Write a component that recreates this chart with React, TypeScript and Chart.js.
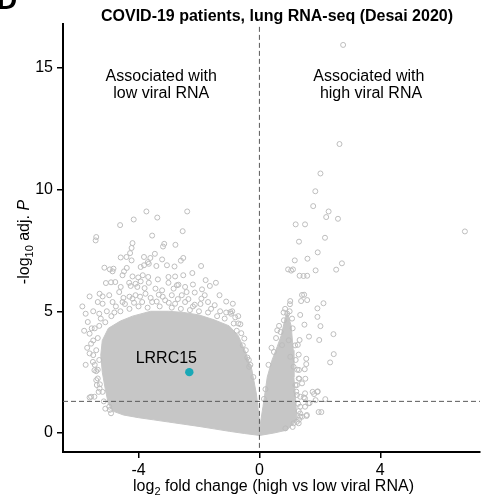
import React, { useEffect, useRef } from "react";
import { Chart, registerables } from "chart.js";

Chart.register(...registerables);

const FONT = "'Liberation Sans', Arial, Helvetica, sans-serif";
const GREY = "#bdbdbd";
const CLOUD_GREY = "#c6c6c6";
const TEAL = "#19a8b6";

const chartTitle = "COVID-19 patients, lung RNA-seq (Desai 2020)";
const panelLetter = "D";
const xTicks = [-4, 0, 4];
const yTicks = [0, 5, 10, 15];
const xRange = [-6.5, 7.3];
const yRange = [-0.78, 16.8];
const zeroFoldChange = 0;
const significanceNegLogP = 1.3;

// outline of the saturated (overplotted) cloud of genes: [log2FC, -log10 adj P]
const denseCloudOutline: [number, number][] = [
  [0.01, -0.1], [-0.5, -0.02], [-1, 0.07], [-1.5, 0.17], [-2, 0.27], [-2.5, 0.36],
  [-3, 0.45], [-3.5, 0.54], [-4, 0.63], [-4.5, 0.74], [-4.85, 0.9], [-5.0, 1.2],
  [-5.1, 1.8], [-5.2, 2.5], [-5.25, 3.2], [-5.2, 3.8], [-5.0, 4.3], [-4.6, 4.6],
  [-4.2, 4.8], [-3.6, 5.0], [-3.0, 5.0], [-2.5, 4.95], [-2.0, 4.85], [-1.5, 4.65],
  [-1.0, 4.4], [-0.7, 4.0], [-0.45, 3.3], [-0.25, 2.6], [-0.1, 1.6], [0.02, 0.3],
  [0.12, 1.1], [0.26, 2.3], [0.42, 3.0], [0.59, 3.55], [0.72, 4.0], [0.86, 4.75],
  [0.93, 4.95], [1.05, 4.4], [1.12, 3.4], [1.14, 2.3], [1.2, 1.35], [1.24, 0.55],
  [0.92, 0.12], [0.48, 0.0], [0.01, -0.1],
];

// individually visible genes, lower in high-viral samples
const lowViralGenes: [number, number][] = [
  [-3.74, 9.1], [-2.39, 9.1], [-4.16, 8.77], [-3.38, 8.85], [-4.61, 8.54], [-5.4, 8.05],
  [-5.42, 7.91], [-3.55, 8.11], [-2.54, 8.29], [-4.2, 7.8], [-3.15, 7.77], [-3.19, 7.66],
  [-2.78, 7.73], [-4.23, 7.6], [-4.28, 7.39], [-4.4, 7.23], [-4.59, 7.21], [-4.23, 7.09],
  [-3.82, 7.23], [-3.61, 7.19], [-3.69, 7.02], [-3.46, 7.36], [-3.22, 7.13], [-2.52, 7.19],
  [-2.6, 7.08], [-5.13, 6.79], [-4.95, 6.72], [-4.83, 6.75], [-4.86, 6.64], [-4.48, 6.64],
  [-4.39, 6.78], [-3.93, 6.82], [-3.82, 6.89], [-3.66, 6.95], [-3.41, 6.86], [-3.06, 6.89],
  [-2.81, 6.84], [-1.93, 6.86], [-4.53, 6.48], [-4.2, 6.43], [-4.01, 6.39], [-3.86, 6.48],
  [-3.68, 6.41], [-3.36, 6.31], [-3.01, 6.41], [-2.79, 6.43], [-2.52, 6.48], [-2.22, 6.57],
  [-1.78, 6.28], [-5.08, 6.16], [-4.91, 6.19], [-4.77, 6.2], [-4.31, 6.17], [-4.1, 6.13],
  [-3.93, 6.23], [-3.66, 6.17], [-3.01, 6.17], [-2.73, 6.07], [-2.46, 6.0], [-1.64, 6.04],
  [-1.44, 6.17], [-4.59, 6.0], [-4.26, 6.04], [-4.04, 6.0], [-3.44, 5.93], [-3.22, 5.86],
  [-2.84, 5.93], [-2.68, 6.09], [-2.41, 5.79], [-2.14, 5.77], [-1.81, 5.66], [-1.32, 5.66],
  [-5.62, 5.61], [-5.29, 5.72], [-5.19, 5.61], [-4.97, 5.66], [-4.64, 5.79], [-4.1, 5.66],
  [-3.77, 5.72], [-3.33, 5.68], [-2.9, 5.66], [-2.57, 5.66], [-1.92, 5.52], [-0.88, 5.31],
  [-5.86, 5.2], [-5.35, 5.38], [-5.19, 5.31], [-4.86, 5.38], [-4.53, 5.38], [-4.2, 5.52],
  [-3.88, 5.38], [-3.55, 5.38], [-3.12, 5.45], [-2.79, 5.31], [-2.46, 5.38], [-2.14, 5.27],
  [-1.7, 5.38], [-1.48, 5.25], [-0.96, 4.97],
  [-5.68, 4.56], [-5.62, 4.08], [-5.57, 3.67], [-5.62, 3.27], [-5.51, 2.92], [-5.46, 2.58],
  [-5.4, 2.17], [-5.29, 1.83], [-5.57, 1.49], [-5.46, 1.49], [-5.19, 1.69], [-4.97, 1.08],
  [-4.91, 0.81], [-5.4, 2.54], [-5.35, 2.24], [-5.38, 1.97], [-5.32, 1.69], [-5.62, 1.46],
  [-0.63, 4.47], [-0.5, 3.88], [-0.34, 2.72], [-0.94, 4.9],
  [-5.3, 4.9], [-5.45, 4.3], [-5.35, 3.9], [-5.4, 3.4], [-5.3, 3.0], [-4.9, 4.8],
  [-4.6, 5.0], [-4.3, 5.1], [-4.0, 5.2], [-3.7, 5.15], [-3.3, 5.2], [-2.9, 5.15],
  [-2.6, 5.1], [-2.3, 5.05], [-2.0, 5.0], [-1.7, 4.95], [-1.4, 4.8], [-1.15, 4.7],
  [-0.85, 4.5], [-0.75, 4.2], [-0.55, 3.6], [-0.4, 3.1], [-0.3, 2.8],
  [-5.5, 5.0], [-5.25, 4.7], [-5.05, 5.0], [-4.75, 5.2], [-4.45, 5.3], [-4.15, 5.35],
  [-3.95, 5.6], [-3.6, 5.55], [-3.4, 5.4], [-3.2, 5.6], [-3.0, 5.35], [-2.7, 5.5],
  [-2.35, 5.5], [-2.2, 5.2], [-1.95, 5.3], [-1.6, 5.1], [-1.3, 5.0], [-1.1, 4.95],
  [-0.8, 4.75], [-0.7, 4.5], [-0.6, 4.1], [-0.45, 3.4], [-0.35, 3.0], [-0.2, 2.3],
  [-5.55, 4.3], [-5.5, 3.8], [-5.5, 3.2], [-5.45, 2.8], [-5.35, 2.6], [-5.28, 2.0],
  [-5.15, 1.3], [-5.1, 1.0], [-4.95, 0.95], [-5.3, 4.4], [-5.1, 4.55], [-4.8, 4.95],
  [-4.5, 5.55], [-4.3, 5.6], [-3.8, 5.95], [-2.2, 6.1], [-1.9, 5.9], [-1.1, 5.4],
  [-0.9, 5.0], [-0.7, 4.8], [-5.75, 4.9], [-5.8, 4.2], [-5.7, 3.5], [-5.75, 2.8],
];

// individually visible genes, higher in high-viral samples
const highViralGenes: [number, number][] = [
  [2.77, 15.94], [2.65, 11.87], [2.02, 10.66], [1.85, 9.93],
  [1.78, 9.32], [2.29, 9.1], [2.21, 8.87], [2.6, 8.8], [1.2, 8.57], [1.51, 8.57],
  [6.8, 8.28], [2.17, 8.02], [1.31, 7.86], [1.93, 7.42], [1.59, 7.16], [1.17, 7.09],
  [2.73, 6.97], [2.54, 6.71], [1.86, 6.68], [0.95, 6.72], [1.05, 6.67], [1.11, 6.72],
  [1.33, 6.46], [1.46, 6.45], [1.58, 6.46], [1.41, 5.67], [1.48, 5.68], [1.58, 5.46],
  [1.38, 5.42], [1.02, 5.42], [1.01, 5.29], [2.12, 5.33], [1.92, 5.12], [1.92, 4.77],
  [1.35, 4.85], [1.49, 4.45], [2.02, 4.39], [2.45, 4.06], [1.64, 3.96], [1.98, 3.82],
  [1.33, 3.82], [1.27, 3.62], [2.46, 3.24], [1.3, 3.22], [2.34, 2.9], [1.55, 3.05],
  [1.55, 2.83], [1.5, 2.62], [1.31, 2.59], [1.52, 2.23], [1.32, 2.23], [1.76, 1.69],
  [1.93, 1.71], [1.81, 1.6], [1.51, 1.63], [1.47, 1.46], [2.18, 1.39], [1.86, 1.35],
  [1.66, 1.23], [1.96, 0.86], [2.05, 0.86], [1.56, 0.7], [1.35, 1.08], [1.35, 0.8],
  [1.31, 0.55], [0.92, 4.9], [0.81, 4.63], [1.08, 4.7], [0.7, 4.15], [0.59, 4.22],
  [0.97, 3.81], [0.75, 3.61], [0.48, 3.33], [1.02, 3.13], [1.13, 2.72], [1.3, 2.24],
  [1.19, 1.97], [1.35, 1.49], [1.51, 1.08], [1.35, 0.67], [1.3, 0.4], [0.86, 0.19],
  [1.24, 1.97], [1.41, 2.04], [1.24, 1.56], [1.41, 0.67], [1.24, 0.46], [1.13, 0.4],
  [1.57, 0.74], [1.92, 1.69], [1.51, 1.42], [1.62, 1.22],
  [0.3, 2.8], [0.4, 3.5], [0.55, 3.9], [0.65, 4.4], [0.8, 4.95], [0.85, 5.1],
  [1.0, 5.0], [1.1, 4.3], [1.18, 3.6], [1.2, 3.0], [1.25, 2.6], [1.22, 1.7],
  [1.28, 1.2], [1.3, 0.9], [1.1, 0.25], [0.2, 1.8], [0.15, 1.4],
];

const highlightName = "LRRC15";
const highlightLogFC = -2.32;
const highlightNegLogP = 2.5;

const regionLabelLines = [
  ["Associated with", "low viral RNA"],
  ["Associated with", " high viral RNA"],
];
const regionLabelLogFC = [-3.25, 3.62];
const regionLabelNegLogP = 14.47;

const toXY = (arr: [number, number][]) => arr.map(([x, y]) => ({ x, y }));

type Piece = { t: string; size: number; dy?: number; italic?: boolean };

function drawRich(ctx: CanvasRenderingContext2D, pieces: Piece[], cx: number, cy: number) {
  const fontFor = (p: Piece) => `${p.italic ? "italic " : ""}${p.size}px ${FONT}`;
  let total = 0;
  const widths = pieces.map((p) => {
    ctx.font = fontFor(p);
    const w = ctx.measureText(p.t).width;
    total += w;
    return w;
  });
  let x = cx - total / 2;
  ctx.textAlign = "left";
  pieces.forEach((p, i) => {
    ctx.font = fontFor(p);
    ctx.fillText(p.t, x, cy + (p.dy || 0));
    x += widths[i];
  });
}

const textPlugin = {
  id: "volcanoTexts",
  afterDraw(chart: any) {
    const ctx: CanvasRenderingContext2D = chart.ctx;
    const xs = chart.scales.x;
    const ys = chart.scales.y;
    const area = chart.chartArea;
    ctx.save();
    ctx.fillStyle = "#000";
    ctx.textBaseline = "alphabetic";

    ctx.font = `bold 28px ${FONT}`;
    ctx.textAlign = "left";
    ctx.fillText(panelLetter, -3, 9);

    ctx.font = `bold 16px ${FONT}`;
    ctx.textAlign = "center";
    ctx.fillText(chartTitle, 277, 21);

    ctx.font = `16px ${FONT}`;
    const ly = ys.getPixelForValue(regionLabelNegLogP);
    regionLabelLines.forEach((lines, i) => {
      const cx = xs.getPixelForValue(regionLabelLogFC[i]);
      lines.forEach((l, j) => ctx.fillText(l, cx, ly + j * 17));
    });

    const hx = xs.getPixelForValue(highlightLogFC);
    const hy = ys.getPixelForValue(highlightNegLogP);
    ctx.fillText(highlightName, hx - 23, hy - 9);

    drawRich(
      ctx,
      [
        { t: "log", size: 16 },
        { t: "2", size: 11, dy: 4 },
        { t: " fold change (high vs low viral RNA)", size: 16 },
      ],
      (area.left + area.right) / 2 + 2,
      491
    );

    ctx.translate(29, (area.top + area.bottom) / 2 + 4);
    ctx.rotate(-Math.PI / 2);
    drawRich(
      ctx,
      [
        { t: "-log", size: 16 },
        { t: "10", size: 11, dy: 4 },
        { t: " adj. ", size: 16 },
        { t: "P", size: 16, italic: true },
      ],
      0,
      0
    );
    ctx.restore();
  },
};

export default function App() {
  const ref = useRef<HTMLCanvasElement | null>(null);
  useEffect(() => {
    if (!ref.current) return;
    const hollow = {
      showLine: false,
      pointRadius: 2.5,
      pointBorderWidth: 1,
      pointBorderColor: GREY,
      pointBackgroundColor: "rgba(0,0,0,0)",
      borderColor: GREY,
      backgroundColor: "rgba(0,0,0,0)",
    };
    const dashed = {
      showLine: true,
      pointRadius: 0,
      borderColor: "#5a5a5a",
      borderWidth: 1,
      borderDash: [5, 3],
      fill: false,
    };
    const chart = new Chart(ref.current, {
      type: "scatter",
      data: {
        datasets: [
          {
            label: "dense",
            data: toXY(denseCloudOutline),
            showLine: true,
            fill: "shape",
            backgroundColor: CLOUD_GREY,
            borderColor: CLOUD_GREY,
            borderWidth: 1,
            pointRadius: 0,
            tension: 0,
            order: 6,
          } as any,
          { label: "low", data: toXY(lowViralGenes), ...hollow, order: 5 } as any,
          { label: "high", data: toXY(highViralGenes), ...hollow, order: 4 } as any,
          {
            label: "vline",
            data: [
              { x: zeroFoldChange, y: -0.61 },
              { x: zeroFoldChange, y: yRange[1] },
            ],
            ...dashed,
            order: 3,
          } as any,
          {
            label: "hline",
            data: [
              { x: xRange[0], y: significanceNegLogP },
              { x: xRange[1], y: significanceNegLogP },
            ],
            ...dashed,
            order: 2,
          } as any,
          {
            label: highlightName,
            data: [{ x: highlightLogFC, y: highlightNegLogP }],
            showLine: false,
            pointRadius: 4.2,
            pointBorderWidth: 0,
            pointBackgroundColor: TEAL,
            pointBorderColor: TEAL,
            order: 1,
          } as any,
        ],
      },
      options: {
        animation: false,
        responsive: false,
        devicePixelRatio: 1,
        events: [],
        layout: { padding: { top: 24, left: 0, right: 0, bottom: 0 } },
        plugins: { legend: { display: false }, tooltip: { enabled: false }, title: { display: false } },
        scales: {
          x: {
            type: "linear",
            min: xRange[0],
            max: xRange[1],
            afterBuildTicks: (s: any) => {
              s.ticks = xTicks.map((v) => ({ value: v }));
            },
            afterFit: (s: any) => {
              s.height = 47;
            },
            grid: { drawOnChartArea: false, drawTicks: true, tickLength: 6, color: "#000", lineWidth: 1.5 },
            border: { display: true, color: "#000", width: 2 },
            ticks: { color: "#000", font: { family: FONT, size: 16 }, padding: 3, maxRotation: 0, autoSkip: false },
          },
          y: {
            type: "linear",
            min: yRange[0],
            max: yRange[1],
            afterBuildTicks: (s: any) => {
              s.ticks = yTicks.map((v) => ({ value: v }));
            },
            afterFit: (s: any) => {
              s.width = 63;
            },
            grid: { drawOnChartArea: false, drawTicks: true, tickLength: 6, color: "#000", lineWidth: 1.5 },
            border: { display: true, color: "#000", width: 2 },
            ticks: { color: "#000", font: { family: FONT, size: 16 }, padding: 4, autoSkip: false },
          },
        },
      } as any,
      plugins: [textPlugin],
    });
    return () => chart.destroy();
  }, []);
  return (
    <div style={{ position: "fixed", left: 0, top: 0, width: 485, height: 499, background: "#fff" }}>
      <canvas ref={ref} width={485} height={499} style={{ width: 485, height: 499 }} />
    </div>
  );
}
